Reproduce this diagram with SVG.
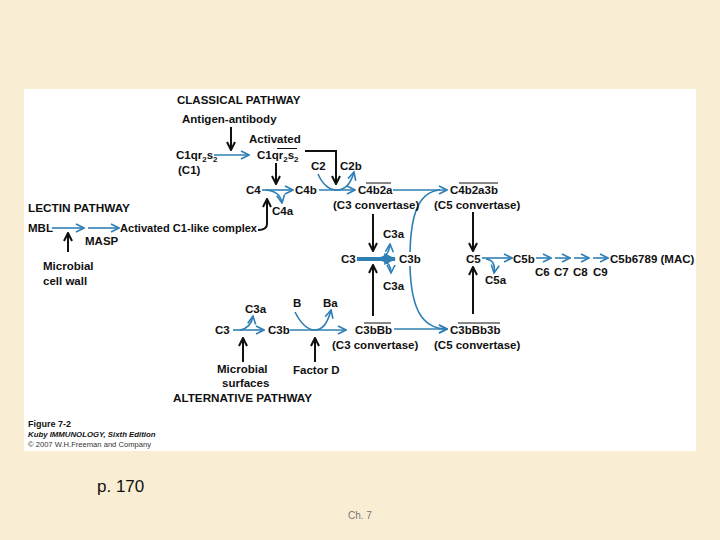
<svg xmlns="http://www.w3.org/2000/svg" width="720" height="540" viewBox="0 0 720 540">
<defs>
<style>
text{font-family:"Liberation Sans",Arial,sans-serif;fill:#111;}
.t{font-size:11.5px;font-weight:bold;}
.h{font-size:11.5px;font-weight:bold;}
.sub{font-size:8px;}
.b{fill:none;stroke:#2F7FB5;stroke-width:1.6;}
.k{fill:none;stroke:#111;stroke-width:2;}
.ov{stroke:#111;stroke-width:1;}
</style>
<marker id="ab" viewBox="0 0 10 10" refX="9" refY="5" markerWidth="10" markerHeight="10" orient="auto" markerUnits="userSpaceOnUse"><path d="M1,1 L9,5 L1,9" fill="none" stroke="#2F7FB5" stroke-width="1.6"/></marker>
<marker id="ak" viewBox="0 0 10 10" refX="9" refY="5" markerWidth="10" markerHeight="10" orient="auto" markerUnits="userSpaceOnUse"><path d="M1,1 L9,5 L1,9" fill="none" stroke="#111" stroke-width="2"/></marker>
<marker id="at" viewBox="0 0 10 10" refX="9" refY="5" markerWidth="12" markerHeight="12" orient="auto" markerUnits="userSpaceOnUse"><path d="M0,0 L10,5 L0,10 Z" fill="#2F7FB5"/></marker>
</defs>
<rect width="720" height="540" fill="#F9EDD3"/>
<rect x="24" y="89" width="672" height="362" fill="#FFFFFF"/>

<g id="connectors">
<path class="k" d="M231,127 L231,150" marker-end="url(#ak)"/>
<path class="b" d="M214,155 L249,155" marker-end="url(#ab)"/>
<path class="k" d="M276,163 L276,184" marker-end="url(#ak)"/>
<path class="k" d="M305,151 L336,151 L336,184" marker-end="url(#ak)"/>
<path class="b" d="M262,190 L293,190" marker-end="url(#ab)"/>
<path class="b" d="M266,190 Q280,191 282,203" marker-end="url(#ab)"/>
<path class="b" d="M318,174 Q325,190 337,190 Q349,190 354,172" marker-end="url(#ab)"/>
<path class="b" d="M319,190 L355,190" marker-end="url(#ab)"/>
<path class="k" d="M258,230 Q267,230 267,224 L267,199" marker-end="url(#ak)"/>
<path class="b" d="M393,190 L447,190" marker-end="url(#ab)"/>
<path class="b" d="M410,252 C411,215 418,192 440,190"/>
<path class="k" d="M373,214 L373,251" marker-end="url(#ak)"/>
<path class="b" d="M380,258 Q389,256 390,244" marker-end="url(#ab)"/>
<path style="fill:none;stroke:#2F7FB5;stroke-width:4;" d="M357,259 L395,259" marker-end="url(#at)"/>
<path class="b" d="M381,260 Q391,262 391,273" marker-end="url(#ab)"/>
<path class="k" d="M373,316 L373,265" marker-end="url(#ak)"/>
<path class="b" d="M410,266 C411,305 420,329 447,329" marker-end="url(#ab)"/>
<path class="b" d="M394,329 L447,329" marker-end="url(#ab)"/>
<path class="k" d="M473,212 L473,251" marker-end="url(#ak)"/>
<path class="k" d="M473,314 L473,267" marker-end="url(#ak)"/>
<path class="b" d="M482,258 L512,258" marker-end="url(#ab)"/>
<path class="b" d="M486,259 Q496,260 494,273" marker-end="url(#ab)"/>
<path class="b" d="M536,258 L551,258" marker-end="url(#ab)"/>
<path class="b" d="M555,258 L570,258" marker-end="url(#ab)"/>
<path class="b" d="M574,258 L589,258" marker-end="url(#ab)"/>
<path class="b" d="M593,258 L608,258" marker-end="url(#ab)"/>
<path class="b" d="M52,228 L84,228" marker-end="url(#ab)"/>
<path class="b" d="M88,228 L119,228" marker-end="url(#ab)"/>
<path class="k" d="M68,252 L68,233" marker-end="url(#ak)"/>
<path class="b" d="M233,330 L264,330" marker-end="url(#ab)"/>
<path class="b" d="M240,330 Q251,328 253,316" marker-end="url(#ab)"/>
<path class="k" d="M243,362 L243,338" marker-end="url(#ak)"/>
<path class="b" d="M290,330 L346,330" marker-end="url(#ab)"/>
<path class="b" d="M295,312 Q304,330 315,330 Q326,330 331,310" marker-end="url(#ab)"/>
<path class="k" d="M315,362 L315,338" marker-end="url(#ak)"/>
</g>

<g id="classical">
<text class="h" x="177" y="104">CLASSICAL PATHWAY</text>
<text class="t" x="182" y="123">Antigen-antibody</text>
<text class="t" x="249" y="143">Activated</text>
</g>
<g id="c1"><text class="t" x="176" y="159">C1qr<tspan class="sub" dy="3">2</tspan><tspan dy="-3">s</tspan><tspan class="sub" dy="3">2</tspan></text>
<text class="t" x="178" y="174">(C1)</text></g>
<g id="c1act"><text class="t" x="257" y="159">C1qr<tspan class="sub" dy="3">2</tspan><tspan dy="-3">s</tspan><tspan class="sub" dy="3">2</tspan></text>
<line class="ov" x1="277" y1="148.5" x2="297" y2="148.5"/></g>
<g id="c2"><text class="t" x="311" y="170">C2</text></g>
<g id="c2b"><text class="t" x="340" y="170">C2b</text></g>
<g id="c4"><text class="t" x="246" y="194">C4</text></g>
<g id="c4b"><text class="t" x="295" y="194">C4b</text></g>
<g id="c4a"><text class="t" x="272" y="215">C4a</text></g>
<g id="c4b2a"><text class="t" x="358" y="194">C4b2a</text>
<line class="ov" x1="366" y1="183" x2="391" y2="183"/>
<text class="t" x="333" y="209">(C3 convertase)</text></g>
<g id="c4b2a3b"><text class="t" x="450" y="194">C4b2a3b</text>
<line class="ov" x1="459" y1="183" x2="498" y2="183"/>
<text class="t" x="434" y="209">(C5 convertase)</text></g>

<g id="lectin">
<text class="h" x="28" y="212" textLength="102" lengthAdjust="spacingAndGlyphs">LECTIN PATHWAY</text>
<text class="t" x="28" y="232">MBL</text>
<text class="t" x="85" y="245">MASP</text>
<text class="t" x="120" y="232" textLength="137" lengthAdjust="spacingAndGlyphs">Activated C1-like complex</text>
<text class="t" x="43" y="270">Microbial</text>
<text class="t" x="43" y="285">cell wall</text>
</g>

<g id="c3mid">
<text class="t" x="383" y="238">C3a</text>
<text class="t" x="341" y="263">C3</text>
<text class="t" x="399" y="263">C3b</text>
<text class="t" x="383" y="290">C3a</text>
</g>

<g id="c5">
<text class="t" x="466" y="263">C5</text>
<text class="t" x="485" y="284">C5a</text>
<text class="t" x="513" y="263">C5b</text>
<text class="t" x="535" y="276">C6</text>
<text class="t" x="554" y="276">C7</text>
<text class="t" x="573" y="276">C8</text>
<text class="t" x="593" y="276">C9</text>
<text class="t" x="610" y="263">C5b6789 (MAC)</text>
</g>

<g id="alternative">
<text class="t" x="245" y="313">C3a</text>
<text class="t" x="293" y="307">B</text>
<text class="t" x="323" y="307">Ba</text>
<text class="t" x="215" y="334">C3</text>
<text class="t" x="268" y="334">C3b</text>
<text class="t" x="217" y="373">Microbial</text>
<text class="t" x="222" y="387">surfaces</text>
<text class="t" x="293" y="374">Factor D</text>
<text class="h" x="173" y="402" textLength="139" lengthAdjust="spacingAndGlyphs">ALTERNATIVE PATHWAY</text>
</g>
<g id="c3bbb"><text class="t" x="355" y="334">C3bBb</text>
<line class="ov" x1="364" y1="323" x2="391" y2="323"/>
<text class="t" x="332" y="349">(C3 convertase)</text></g>
<g id="c3bbb3b"><text class="t" x="450" y="334">C3bBb3b</text>
<line class="ov" x1="458" y1="323" x2="500" y2="323"/>
<text class="t" x="434" y="349">(C5 convertase)</text></g>

<g id="caption">
<text x="28" y="427" style="font-size:9px;font-weight:bold;">Figure 7-2</text>
<text x="28" y="437" style="font-size:7.8px;font-weight:bold;font-style:italic;">Kuby IMMUNOLOGY, Sixth Edition</text>
<text x="28" y="447" style="font-size:7.6px;fill:#333;">© 2007 W.H.Freeman and Company</text>
</g>
<text x="97" y="492" style="font-size:17px;">p. 170</text>
<text x="348" y="519" style="font-size:10px;fill:#777;">Ch. 7</text>
</svg>
